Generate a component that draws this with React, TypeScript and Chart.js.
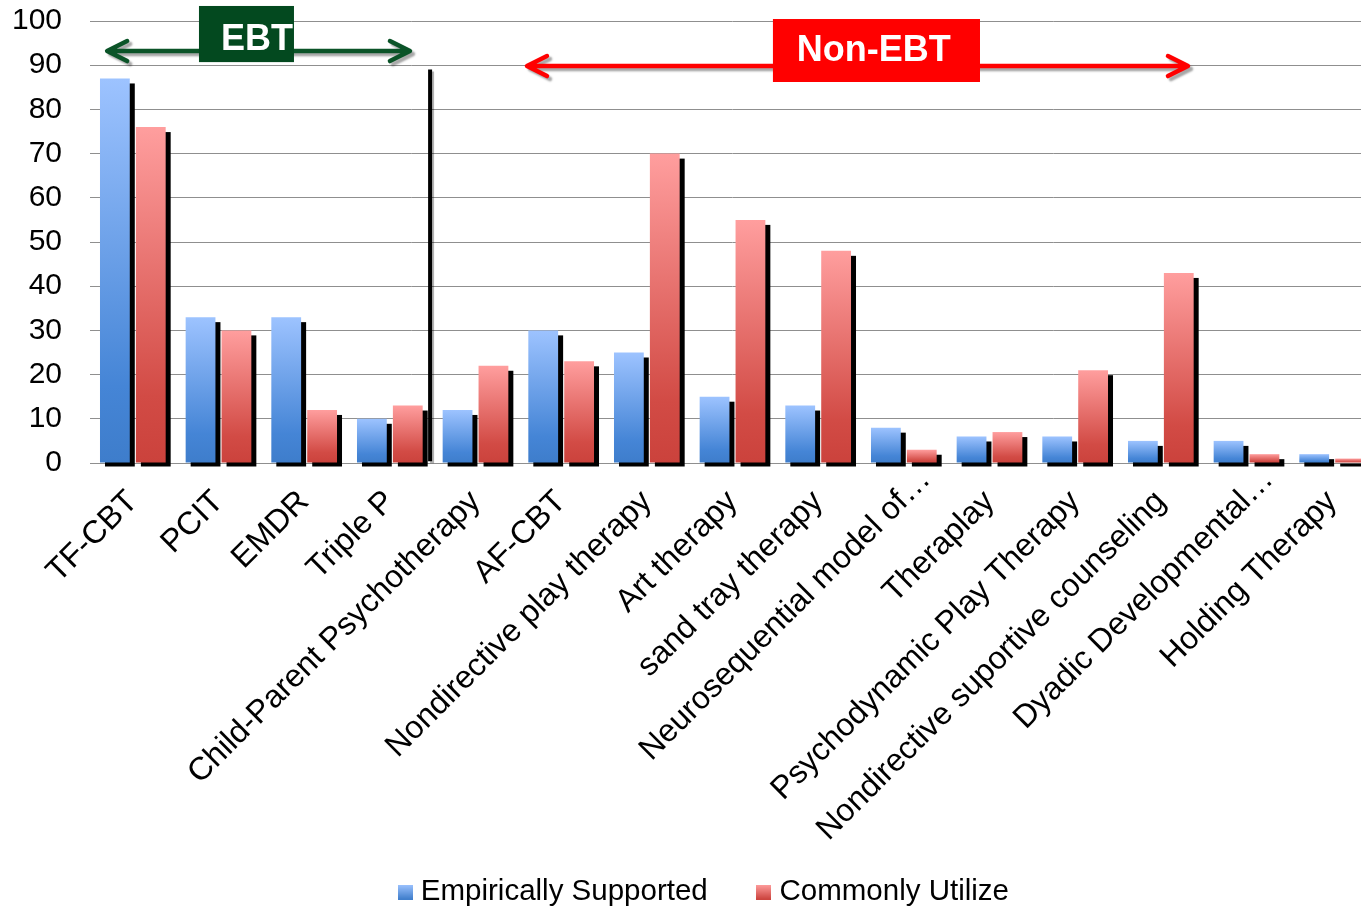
import React, { useEffect, useRef } from 'react';
import { Chart, registerables } from 'chart.js';

Chart.register(...registerables);

const FONT = '"Liberation Sans", Arial, Helvetica, sans-serif';

const categories = [
  'TF-CBT',
  'PCIT',
  'EMDR',
  'Triple P',
  'Child-Parent Psychotherapy',
  'AF-CBT',
  'Nondirective play therapy',
  'Art therapy',
  'sand tray therapy',
  'Neurosequential model of…',
  'Theraplay',
  'Psychodynamic Play Therapy',
  'Nondirective suportive counseling',
  'Dyadic Developmental…',
  'Holding Therapy',
];
// truncated labels sit a little further along their baseline in the original
const labelNudge = [0, 0, 0, 0, 0, 0, 0, 0, 0, 31, 0, 0, 0, 31, 0];
const seriesNames = ['Empirically Supported', 'Commonly Utilize'];
const empiricallySupported = [87, 33, 33, 10, 12, 30, 25, 15, 13, 8, 6, 6, 5, 5, 2];
const commonlyUtilize = [76, 30, 12, 13, 22, 23, 70, 55, 48, 3, 7, 21, 43, 2, 1];
const yMin = 0;
const yMax = 100;
const yStep = 10;

// annotations, in category-index / value units
const ebtArrow = { from: -0.3, to: 3.235, value: 93.2 };
const ebtBox = { from: 0.772, to: 1.881, top: 103.4, bottom: 90.7 };
const ebtLabel = { text: 'EBT', at: 1.449, value: 95.6 };
const nonEbtArrow = { from: 4.601, to: 12.317, value: 89.8 };
const nonEbtBox = { from: 7.472, to: 9.889, top: 100.45, bottom: 86.2 };
const nonEbtLabel = { text: 'Non-EBT', at: 8.65, value: 93.3 };
const divider = { at: 3.47, top: 89, bottom: 0.4 };

// layout
const W = 1361;
const H = 907;
const CANVAS_W = 1375; // plot area runs slightly past the right edge, as in the original
const PLOT_LEFT = 90;
const PLOT_TOP = 21;
const PLOT_BOTTOM = 463;
const LEGEND_SHIFT = 38;
const LEGEND_TEXT_Y = 892;
const LABEL_ROTATION = 45;

const BLUE = ['#9DC3FF', '#4585D6', '#3E7DCB'];
const RED = ['#FF9E9E', '#D24B45', '#CB423C'];

function barGradient(ctx: any, colors: string[]) {
  const chart = ctx.chart;
  if (!chart.chartArea || !chart.scales || !chart.scales.y) return colors[1];
  const y = chart.scales.y;
  const v = ctx.raw as number;
  const top = y.getPixelForValue(v);
  const base = y.getPixelForValue(0);
  if (!isFinite(top) || !isFinite(base) || base - top < 1) return colors[1];
  const g = chart.ctx.createLinearGradient(0, top, 0, base);
  g.addColorStop(0, colors[0]);
  g.addColorStop(0.8, colors[1]);
  g.addColorStop(1, colors[2]);
  return g;
}

function swatch(colors: string[]) {
  const c = document.createElement('canvas');
  c.width = 15;
  c.height = 15;
  const x = c.getContext('2d')!;
  const g = x.createLinearGradient(0, 0, 0, 15);
  g.addColorStop(0, colors[0]);
  g.addColorStop(1, colors[2]);
  x.fillStyle = g;
  x.fillRect(0, 0, 15, 15);
  return c;
}

const shadowPlugin = {
  id: 'barShadow',
  beforeDatasetsDraw(chart: any) {
    const ctx = chart.ctx;
    ctx.save();
    ctx.fillStyle = '#000';
    chart.data.datasets.forEach((_: any, di: number) => {
      const meta = chart.getDatasetMeta(di);
      meta.data.forEach((bar: any) => {
        const { x, y, base, width } = bar.getProps(['x', 'y', 'base', 'width'], true);
        ctx.fillRect(x - width / 2 + 5, y + 5, width, base - y - 1);
      });
    });
    ctx.restore();
  },
};

const LEGEND_PADDING = 55;
const LEGEND_FONT = 29.5;

const layoutTweakPlugin = {
  id: 'layoutTweak',
  afterLayout(chart: any) {
    const lg = chart.legend;
    if (lg) {
      lg.left += LEGEND_SHIFT;
      lg.top = LEGEND_TEXT_Y - LEGEND_PADDING - LEGEND_FONT / 2;
      lg.bottom = chart.height;
    }
    const xs = chart.scales.x;
    if (xs && xs.getLabelItems) {
      const items = xs.getLabelItems(chart.chartArea);
      const a = (LABEL_ROTATION * Math.PI) / 180;
      items.forEach((it: any, i: number) => {
        const s = labelNudge[i] || 0;
        if (!s || !it.options || !it.options.translation) return;
        const [tx, ty] = it.options.translation;
        it.options.translation = [tx + s * Math.cos(a), ty - s * Math.sin(a)];
      });
    }
  },
};

function drawArrow(ctx: CanvasRenderingContext2D, x1: number, x2: number, y: number, color: string, lw: number) {
  ctx.save();
  ctx.strokeStyle = color;
  ctx.lineWidth = lw;
  ctx.lineCap = 'round';
  ctx.lineJoin = 'round';
  ctx.shadowColor = 'rgba(0,0,0,0.35)';
  ctx.shadowOffsetX = 3;
  ctx.shadowOffsetY = 3;
  ctx.shadowBlur = 2;
  ctx.beginPath();
  ctx.moveTo(x1 + 2, y);
  ctx.lineTo(x2 - 2, y);
  ctx.moveTo(x1 + 20, y - 10);
  ctx.lineTo(x1, y);
  ctx.lineTo(x1 + 20, y + 10);
  ctx.moveTo(x2 - 20, y - 10);
  ctx.lineTo(x2, y);
  ctx.lineTo(x2 - 20, y + 10);
  ctx.stroke();
  ctx.restore();
}

const annotationPlugin = {
  id: 'ebtAnnotations',
  afterDatasetsDraw(chart: any) {
    const ctx: CanvasRenderingContext2D = chart.ctx;
    const xs = chart.scales.x;
    const ys = chart.scales.y;
    const px = (i: number) => xs.getPixelForValue(i);
    const py = (v: number) => ys.getPixelForValue(v);

    // divider
    ctx.save();
    ctx.strokeStyle = '#000';
    ctx.lineWidth = 4;
    ctx.shadowColor = 'rgba(0,0,0,0.3)';
    ctx.shadowOffsetX = 2;
    ctx.shadowOffsetY = 2;
    ctx.beginPath();
    ctx.moveTo(px(divider.at), py(divider.top));
    ctx.lineTo(px(divider.at), py(divider.bottom));
    ctx.stroke();
    ctx.restore();

    drawArrow(ctx, px(ebtArrow.from), px(ebtArrow.to), py(ebtArrow.value), '#0B5428', 4.5);
    drawArrow(ctx, px(nonEbtArrow.from), px(nonEbtArrow.to), py(nonEbtArrow.value), '#FF0000', 4.5);

    ctx.save();
    ctx.fillStyle = '#03491F';
    ctx.fillRect(px(ebtBox.from), py(ebtBox.top), px(ebtBox.to) - px(ebtBox.from), py(ebtBox.bottom) - py(ebtBox.top));
    ctx.fillStyle = '#FF0000';
    ctx.fillRect(px(nonEbtBox.from), py(nonEbtBox.top), px(nonEbtBox.to) - px(nonEbtBox.from), py(nonEbtBox.bottom) - py(nonEbtBox.top));
    ctx.fillStyle = '#FFFFFF';
    ctx.textAlign = 'center';
    ctx.textBaseline = 'middle';
    ctx.font = `bold 36px ${FONT}`;
    ctx.fillText(ebtLabel.text, px(ebtLabel.at), py(ebtLabel.value));
    ctx.fillText(nonEbtLabel.text, px(nonEbtLabel.at), py(nonEbtLabel.value));
    ctx.restore();
  },
};

export default function App() {
  const canvasRef = useRef<HTMLCanvasElement | null>(null);

  useEffect(() => {
    if (!canvasRef.current) return;
    const blueSwatch = swatch(BLUE);
    const redSwatch = swatch(RED);

    const chart = new Chart(canvasRef.current, {
      type: 'bar',
      data: {
        labels: categories,
        datasets: [
          {
            label: seriesNames[0],
            data: empiricallySupported,
            backgroundColor: (c: any) => barGradient(c, BLUE),
            borderWidth: 0,
            categoryPercentage: 0.838,
            barPercentage: 0.83,
          },
          {
            label: seriesNames[1],
            data: commonlyUtilize,
            backgroundColor: (c: any) => barGradient(c, RED),
            borderWidth: 0,
            categoryPercentage: 0.838,
            barPercentage: 0.83,
          },
        ],
      },
      options: {
        animation: false,
        responsive: true,
        maintainAspectRatio: false,
        layout: { padding: { top: PLOT_TOP, left: 0, right: 0, bottom: 0 } },
        plugins: {
          tooltip: { enabled: false },
          legend: {
            position: 'bottom',
            maxHeight: 20,
            labels: {
              usePointStyle: true,
              pointStyleWidth: 2,
              padding: LEGEND_PADDING,
              color: '#000',
              font: { size: LEGEND_FONT, family: FONT },
              generateLabels: () => [
                { text: seriesNames[0], pointStyle: blueSwatch, fillStyle: BLUE[1], strokeStyle: 'rgba(0,0,0,0)', lineWidth: 0, hidden: false, datasetIndex: 0 },
                { text: seriesNames[1], pointStyle: redSwatch, fillStyle: RED[1], strokeStyle: 'rgba(0,0,0,0)', lineWidth: 0, hidden: false, datasetIndex: 1 },
              ] as any,
            },
          },
        },
        scales: {
          x: {
            grid: { display: false, drawTicks: false },
            border: { display: false },
            ticks: {
              autoSkip: false,
              minRotation: LABEL_ROTATION,
              maxRotation: LABEL_ROTATION,
              padding: 20,
              color: '#000',
              font: { size: 32, family: FONT },
            },
            afterFit: (scale: any) => {
              scale.paddingLeft = 0;
              scale.paddingRight = 0;
              const lh = scale.chart.legend ? scale.chart.legend.height : 0;
              scale.height = scale.chart.height - PLOT_BOTTOM - lh;
            },
          },
          y: {
            min: yMin,
            max: yMax,
            grid: { color: '#8F8F8F', lineWidth: 1, drawTicks: false },
            border: { display: false },
            ticks: {
              stepSize: yStep,
              padding: 28,
              color: '#000',
              font: { size: 30, family: FONT },
            },
            afterFit: (scale: any) => {
              scale.width = PLOT_LEFT;
              scale.paddingTop = 0;
              scale.paddingBottom = 0;
            },
          },
        },
      },
      plugins: [shadowPlugin, annotationPlugin, layoutTweakPlugin],
    });
    return () => chart.destroy();
  }, []);

  return (
    <div style={{ position: 'absolute', left: 0, top: 0, width: W, height: H, background: '#fff', overflow: 'hidden' }}>
      <div style={{ position: 'relative', width: CANVAS_W, height: H }}>
        <canvas ref={canvasRef} />
      </div>
    </div>
  );
}
